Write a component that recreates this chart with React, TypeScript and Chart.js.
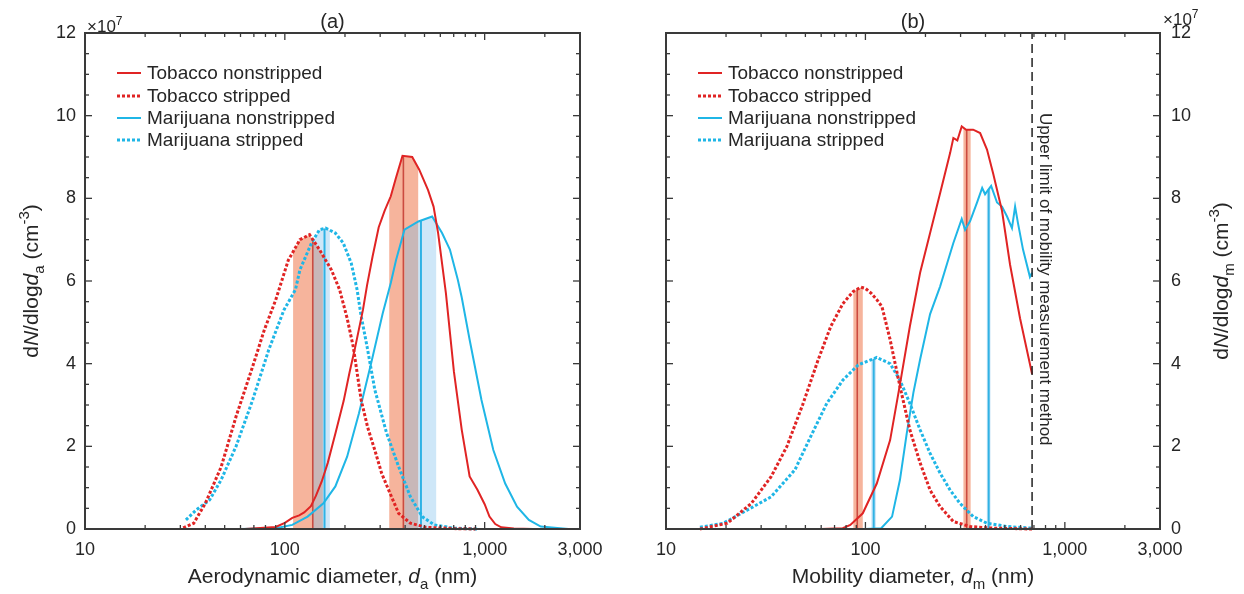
import React, { useEffect, useRef } from 'react';
import { Chart, registerables } from 'chart.js';

Chart.register(...registerables);

// ---------------- Data (y values in units of 10^7 cm^-3) ----------------
const seriesNames = ['Tobacco nonstripped', 'Tobacco stripped', 'Marijuana nonstripped', 'Marijuana stripped'];

// Panel (a): aerodynamic diameter (nm)
const aTobNonX = [63, 90, 100, 109, 118, 125, 135, 143, 153, 164, 180, 197, 211, 225, 246, 258, 275, 295, 316, 339, 360, 388, 434, 470, 521, 555, 585, 640, 702, 768, 841, 920, 1000, 1057, 1130, 1211, 1400, 1742];
const aTobNonY = [0, 0.05, 0.15, 0.27, 0.33, 0.4, 0.55, 0.8, 1.15, 1.6, 2.35, 3.1, 3.8, 4.4, 5.3, 5.9, 6.6, 7.3, 7.7, 8.05, 8.5, 9.03, 9.0, 8.7, 8.2, 7.8, 7.16, 5.7, 3.8, 2.4, 1.27, 0.95, 0.6, 0.3, 0.12, 0.04, 0.01, 0];
const aTobStrX = [31, 35, 40, 48, 57, 69, 79, 90, 104, 119, 133, 149, 171, 188, 205, 220, 241, 260, 282, 305, 331, 371, 425, 510, 702, 900];
const aTobStrY = [0.03, 0.14, 0.62, 1.5, 2.72, 3.93, 4.82, 5.54, 6.5, 7.0, 7.12, 6.76, 6.27, 5.79, 5.1, 4.41, 3.12, 2.45, 1.91, 1.35, 0.94, 0.38, 0.14, 0.04, 0.01, 0];
const aMarNonX = [60, 90, 109, 130, 156, 179, 205, 235, 270, 309, 339, 360, 397, 466, 546, 612, 670, 734, 768, 841, 964, 1105, 1267, 1452, 1664, 1909, 2625];
const aMarNonY = [0, 0.02, 0.1, 0.3, 0.62, 1.03, 1.75, 2.8, 4.0, 5.22, 5.95, 6.5, 7.24, 7.44, 7.56, 7.16, 6.76, 6.03, 5.6, 4.58, 3.12, 1.91, 1.1, 0.54, 0.22, 0.06, 0];
const aMarStrX = [32, 36, 42, 48, 57, 69, 83, 99, 113, 119, 136, 149, 160, 179, 196, 215, 230, 240, 258, 282, 323, 371, 425, 487, 559, 702, 920];
const aMarStrY = [0.22, 0.46, 0.7, 1.19, 2.0, 3.12, 4.33, 5.3, 5.79, 6.27, 6.92, 7.24, 7.28, 7.16, 6.92, 6.43, 5.79, 5.2, 4.41, 3.37, 2.32, 1.51, 0.78, 0.3, 0.1, 0.02, 0];

// Panel (b): mobility diameter (nm)
const bTobNonX = [40, 60, 77, 84, 97, 114, 133, 149, 167, 188, 211, 237, 266, 276, 289, 304, 320, 347, 376, 407, 437, 484, 531, 596, 685];
const bTobNonY = [0, 0, 0.02, 0.1, 0.38, 1.1, 2.15, 3.5, 4.9, 6.2, 7.16, 8.13, 9.1, 9.46, 9.4, 9.74, 9.66, 9.66, 9.58, 9.18, 8.6, 7.7, 6.4, 5.1, 3.75];
const bTobStrX = [14.8, 20.3, 26.8, 33.7, 40.4, 48.4, 58, 67, 77, 87, 95, 100, 107, 114, 121, 133, 149, 167, 188, 211, 237, 276, 335, 437, 685];
const bTobStrY = [0, 0.14, 0.62, 1.27, 2.0, 3.0, 4.1, 4.9, 5.45, 5.75, 5.85, 5.82, 5.7, 5.55, 5.38, 4.58, 3.45, 2.4, 1.6, 0.94, 0.54, 0.18, 0.06, 0.02, 0];
const bMarNonX = [14, 60, 100, 120, 136, 149, 161, 174, 188, 211, 237, 257, 276, 304, 316, 335, 363, 385, 398, 427, 457, 484, 513, 543, 563, 582, 617, 668, 685];
const bMarNonY = [0, 0, 0, 0.02, 0.3, 1.19, 2.3, 3.3, 4.1, 5.2, 5.87, 6.43, 6.92, 7.5, 7.24, 7.45, 7.9, 8.25, 8.1, 8.3, 7.9, 7.8, 7.56, 7.28, 7.8, 7.4, 6.76, 6.1, 6.2];
const bMarStrX = [14.8, 19.4, 25.6, 33.7, 44.3, 53.2, 64, 77, 92, 114, 133, 149, 167, 188, 211, 237, 266, 298, 347, 407, 513, 685];
const bMarStrY = [0.04, 0.14, 0.46, 0.78, 1.43, 2.24, 3.04, 3.6, 3.97, 4.15, 4.0, 3.6, 3.04, 2.4, 1.83, 1.35, 0.94, 0.62, 0.3, 0.14, 0.06, 0.02];

// Shaded ranges and medians (series index, low, high, median), nm
const aBandSeries = [1, 0, 3, 2];
const aBandLo = [110, 333, 138, 397];
const aBandHi = [155, 465, 168, 572];
const aBandMed = [138, 392, 158, 480];
const bBandSeries = [1, 0, 3, 2];
const bBandLo = [87, 310, 107, 406];
const bBandHi = [97, 337, 113, 424];
const bBandMed = [91, 322, 110, 415];

const xTickLabels = [10, 100, 1000, 3000];
const yMax = 12;
const upperLimit = 685;

// ---------------- Styling ----------------
const FONT = '"Liberation Sans", Arial, Helvetica, sans-serif';
const TEXT = '#262626';
const AXIS = '#3a3a3a';
const RED = '#E02424';
const CYAN = '#1FB6E6';
const BAND_RED = 'rgba(238,112,66,0.52)';
const BAND_CYAN = 'rgba(120,188,236,0.36)';
const MED_RED = 'rgba(196,58,48,0.85)';
const MED_CYAN = 'rgba(40,176,228,0.95)';

type Seg = { t: string; it?: boolean; sub?: boolean; sup?: boolean };

function segFont(s: Seg, size: number) {
  const sz = s.sub || s.sup ? Math.round(size * 0.72) : size;
  return `${s.it ? 'italic ' : ''}${sz}px ${FONT}`;
}
function drawRich(ctx: CanvasRenderingContext2D, segs: Seg[], x: number, y: number, size: number, align: 'center' | 'left') {
  let w = 0;
  for (const s of segs) { ctx.font = segFont(s, size); w += ctx.measureText(s.t).width; }
  let cx = align === 'center' ? x - w / 2 : x;
  ctx.textAlign = 'left';
  ctx.textBaseline = 'alphabetic';
  for (const s of segs) {
    ctx.font = segFont(s, size);
    const dy = s.sub ? size * 0.3 : s.sup ? -size * 0.42 : 0;
    ctx.fillText(s.t, cx, y + dy);
    cx += ctx.measureText(s.t).width;
  }
}

function xMinorTicks(): { v: number; major: boolean }[] {
  const out: { v: number; major: boolean }[] = [];
  for (const dec of [10, 100, 1000]) {
    for (let m = 1; m <= 9; m++) {
      const v = m * dec;
      if (v <= 3000) out.push({ v, major: m === 1 });
    }
  }
  return out;
}

interface Panel {
  side: 'left' | 'right';
  title: string;
  xName: string;
  xSub: string;
  xs: number[][];
  ys: number[][];
  bandSeries: number[];
  bandLo: number[];
  bandHi: number[];
  bandMed: number[];
  limit: number | null;
}

const panelA: Panel = {
  side: 'left', title: '(a)', xName: 'Aerodynamic diameter, ', xSub: 'a',
  xs: [aTobNonX, aTobStrX, aMarNonX, aMarStrX], ys: [aTobNonY, aTobStrY, aMarNonY, aMarStrY],
  bandSeries: aBandSeries, bandLo: aBandLo, bandHi: aBandHi, bandMed: aBandMed, limit: null,
};
const panelB: Panel = {
  side: 'right', title: '(b)', xName: 'Mobility diameter, ', xSub: 'm',
  xs: [bTobNonX, bTobStrX, bMarNonX, bMarStrX], ys: [bTobNonY, bTobStrY, bMarNonY, bMarStrY],
  bandSeries: bBandSeries, bandLo: bBandLo, bandHi: bBandHi, bandMed: bBandMed, limit: upperLimit,
};

function curvePoints(chart: any, i: number) {
  return chart.getDatasetMeta(i).data.map((p: any) => ({ x: p.x, y: p.y }));
}
function yAtPx(pts: { x: number; y: number }[], px: number, base: number) {
  for (let k = 0; k < pts.length - 1; k++) {
    const a = pts[k], b = pts[k + 1];
    if (px >= a.x && px <= b.x) {
      const t = b.x === a.x ? 0 : (px - a.x) / (b.x - a.x);
      return a.y + t * (b.y - a.y);
    }
  }
  return base;
}

function makeChart(canvas: HTMLCanvasElement, p: Panel) {
  const isLeft = p.side === 'left';
  const datasets = p.xs.map((xs, i) => ({
    label: seriesNames[i],
    data: xs.map((x, j) => ({ x, y: p.ys[i][j] })),
    borderColor: i < 2 ? RED : CYAN,
    borderWidth: i % 2 === 0 ? 2 : 3,
    borderDash: i % 2 === 0 ? [] : [3, 2],
    pointRadius: 0,
    tension: 0,
    fill: false,
    clip: 8,
  }));

  const decor = {
    id: 'decor',
    beforeDatasetsDraw(chart: any) {
      const { ctx, chartArea: a, scales } = chart;
      const xs = scales.x;
      const base = scales.y.getPixelForValue(0);
      ctx.save();
      p.bandSeries.forEach((si, k) => {
        const pts = curvePoints(chart, si);
        const x1 = xs.getPixelForValue(p.bandLo[k]);
        const x2 = xs.getPixelForValue(p.bandHi[k]);
        ctx.save();
        ctx.beginPath();
        ctx.rect(x1, a.top, x2 - x1, a.bottom - a.top);
        ctx.clip();
        ctx.beginPath();
        ctx.moveTo(pts[0].x, base);
        for (const q of pts) ctx.lineTo(q.x, q.y);
        ctx.lineTo(pts[pts.length - 1].x, base);
        ctx.closePath();
        ctx.fillStyle = si < 2 ? BAND_RED : BAND_CYAN;
        ctx.fill();
        ctx.restore();
      });
      p.bandSeries.forEach((si, k) => {
        const pts = curvePoints(chart, si);
        const xm = xs.getPixelForValue(p.bandMed[k]);
        const ym = yAtPx(pts, xm, base);
        ctx.beginPath();
        ctx.moveTo(xm, base);
        ctx.lineTo(xm, ym);
        ctx.strokeStyle = si < 2 ? MED_RED : MED_CYAN;
        ctx.lineWidth = si < 2 ? 1.6 : 2;
        ctx.stroke();
      });
      ctx.restore();
    },
    afterDraw(chart: any) {
      const { ctx, chartArea: a, scales } = chart;
      const xs = scales.x, ys = scales.y;
      ctx.save();
      // dashed limit line
      if (p.limit !== null) {
        const xl = xs.getPixelForValue(p.limit);
        ctx.beginPath();
        ctx.setLineDash([9, 5]);
        ctx.moveTo(xl, a.bottom);
        ctx.lineTo(xl, a.top);
        ctx.strokeStyle = '#222';
        ctx.lineWidth = 1.5;
        ctx.stroke();
        ctx.setLineDash([]);
        ctx.save();
        ctx.translate(xl + 8, 113);
        ctx.rotate(Math.PI / 2);
        ctx.fillStyle = TEXT;
        ctx.font = `17px ${FONT}`;
        ctx.textAlign = 'left';
        ctx.textBaseline = 'alphabetic';
        ctx.fillText('Upper limit of mobility measurement method', 0, 0);
        ctx.restore();
      }
      // ticks
      ctx.strokeStyle = AXIS;
      ctx.lineWidth = 1.3;
      const seg = (x1: number, y1: number, x2: number, y2: number) => {
        ctx.beginPath(); ctx.moveTo(x1, y1); ctx.lineTo(x2, y2); ctx.stroke();
      };
      for (const t of xMinorTicks()) {
        const px = xs.getPixelForValue(t.v);
        const len = t.major ? 7 : 4;
        seg(px, a.bottom, px, a.bottom - len);
        seg(px, a.top, px, a.top + len);
      }
      for (let v = 0; v <= yMax + 1e-9; v += 0.5) {
        const py = ys.getPixelForValue(v);
        const len = Math.abs(v % 2) < 1e-9 ? 7 : 4;
        seg(a.left, py, a.left + len, py);
        seg(a.right, py, a.right - len, py);
      }
      // box
      ctx.lineWidth = 2;
      ctx.strokeRect(a.left, a.top, a.right - a.left, a.bottom - a.top);

      ctx.fillStyle = TEXT;
      // title
      ctx.font = `20px ${FONT}`;
      ctx.textAlign = 'center';
      ctx.textBaseline = 'alphabetic';
      ctx.fillText(p.title, (a.left + a.right) / 2, 28);
      // exponent label
      if (isLeft) {
        drawRich(ctx, [{ t: '\u00d710' }, { t: '7', sup: true }], a.left + 2, 32, 17, 'left');
      } else {
        drawRich(ctx, [{ t: '\u00d710' }, { t: '7', sup: true }], a.right + 3, 25, 17, 'left');
      }
      // x axis title
      drawRich(ctx, [{ t: p.xName }, { t: 'd', it: true }, { t: p.xSub, sub: true }, { t: ' (nm)' }], (a.left + a.right) / 2, 583, 21, 'center');
      // y axis title
      const ySegs: Seg[] = [{ t: 'd' }, { t: 'N', it: true }, { t: '/dlog' }, { t: 'd', it: true }, { t: p.xSub, sub: true }, { t: ' (cm' }, { t: '-3', sup: true }, { t: ')' }];
      ctx.save();
      ctx.translate(isLeft ? a.left - 47 : a.right + 68, (a.top + a.bottom) / 2);
      ctx.rotate(-Math.PI / 2);
      drawRich(ctx, ySegs, 0, 0, 21, 'center');
      ctx.restore();
      // legend
      const lx = a.left + 32;
      const rows = [73, 96, 118, 140];
      seriesNames.forEach((name, i) => {
        const yy = rows[i];
        ctx.beginPath();
        ctx.setLineDash(i % 2 === 0 ? [] : [3, 2]);
        ctx.moveTo(lx, yy);
        ctx.lineTo(lx + 24, yy);
        ctx.strokeStyle = i < 2 ? RED : CYAN;
        ctx.lineWidth = i % 2 === 0 ? 2 : 3;
        ctx.stroke();
        ctx.setLineDash([]);
        ctx.fillStyle = TEXT;
        ctx.font = `19px ${FONT}`;
        ctx.textAlign = 'left';
        ctx.textBaseline = 'middle';
        ctx.fillText(name, lx + 30, yy + 1);
      });
      ctx.restore();
    },
  };

  return new Chart(canvas, {
    type: 'line',
    data: { datasets },
    options: {
      animation: false,
      responsive: false,
      devicePixelRatio: 1,
      events: [],
      layout: { padding: isLeft ? { left: 0, top: 33, right: 42, bottom: 0 } : { left: 44, top: 33, right: 0, bottom: 0 } },
      plugins: { legend: { display: false }, tooltip: { enabled: false }, title: { display: false } },
      scales: {
        x: {
          type: 'logarithmic',
          min: 10,
          max: 3000,
          afterBuildTicks: (s: any) => { s.ticks = xTickLabels.map((v) => ({ value: v })); },
          afterFit: (s: any) => { s.height = 65; },
          grid: { display: false, drawTicks: false },
          border: { display: false },
          ticks: {
            autoSkip: false,
            maxRotation: 0,
            padding: 10,
            color: TEXT,
            font: { family: FONT, size: 18 },
            callback: (v: any) => Number(v).toLocaleString('en-US'),
          },
        },
        y: {
          type: 'linear',
          position: isLeft ? 'left' : 'right',
          min: 0,
          max: yMax,
          afterFit: (s: any) => { s.width = isLeft ? 85 : 84; },
          grid: { display: false, drawTicks: false },
          border: { display: false },
          ticks: {
            stepSize: 2,
            padding: isLeft ? 9 : 11,
            color: TEXT,
            font: { family: FONT, size: 18 },
          },
        },
      },
    },
    plugins: [decor],
  } as any);
}

export default function App() {
  const refA = useRef<HTMLCanvasElement>(null);
  const refB = useRef<HTMLCanvasElement>(null);
  useEffect(() => {
    const ca = makeChart(refA.current!, panelA);
    const cb = makeChart(refB.current!, panelB);
    return () => { ca.destroy(); cb.destroy(); };
  }, []);
  return (
    <div style={{ position: 'absolute', left: 0, top: 0, width: 1244, height: 594, background: '#fff' }}>
      <canvas ref={refA} width={622} height={594} style={{ position: 'absolute', left: 0, top: 0, width: 622, height: 594 }} />
      <canvas ref={refB} width={622} height={594} style={{ position: 'absolute', left: 622, top: 0, width: 622, height: 594 }} />
    </div>
  );
}
